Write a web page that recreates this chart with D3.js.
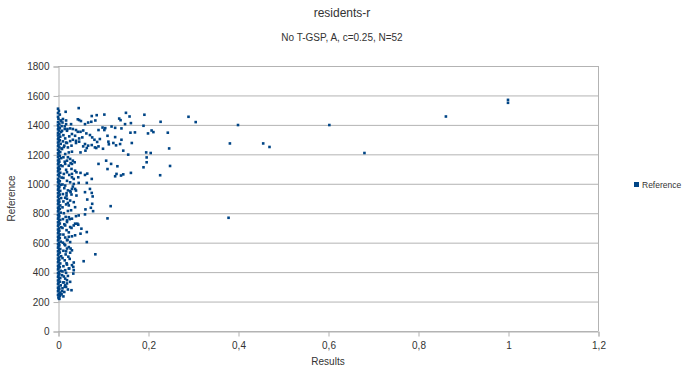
<!DOCTYPE html>
<html>
<head>
<meta charset="utf-8">
<script src="https://cdn.jsdelivr.net/npm/d3@7"></script>
<style>
  body { margin: 0; background: #fff; }
  text { font-family: "Liberation Sans", Arial, sans-serif; fill: #333; }
</style>
</head>
<body>
<div id="chart"></div>
<script>
// dense column sitting on x = 0 (Results, Reference)
const nearZero = [
  [0,1510],[0.002,1495],[0,1480],[0.004,1470],[0,1455],[0.001,1440],[0.006,1430],[0,1418],[0.003,1408],[0,1398],
  [0.008,1392],[0.001,1385],[0.004,1377],[0,1370],[0.002,1361],[0.007,1352],[0,1345],[0.003,1337],[0,1328],[0.005,1320],
  [0.001,1312],[0,1303],[0.004,1296],[0.002,1288],[0,1280],[0.006,1271],[0.001,1263],[0,1255],[0.003,1247],[0.008,1240],
  [0,1232],[0.002,1224],[0.005,1215],[0,1207],[0.001,1199],[0.004,1190],[0,1182],[0.007,1174],[0.002,1166],[0,1158],
  [0.003,1150],[0.001,1141],[0,1133],[0.006,1125],[0.002,1117],[0,1108],[0.004,1100],[0.001,1092],[0,1084],[0.005,1075],
  [0.002,1067],[0,1059],[0.003,1050],[0.008,1042],[0,1034],[0.001,1026],[0.004,1018],[0,1010],[0.002,1001],[0.006,993],
  [0,985],[0.003,977],[0.001,968],[0,960],[0.005,952],[0.002,944],[0,936],[0.004,927],[0.001,919],[0,911],
  [0.007,903],[0.002,895],[0,886],[0.003,878],[0.001,870],[0,862],[0.005,853],[0.002,845],[0,837],[0.004,829],
  [0.001,820],[0,812],[0.006,804],[0.002,796],[0,788],[0.003,779],[0.001,771],[0,763],[0.005,755],[0.002,746],
  [0,738],[0.004,730],[0.001,722],[0,714],[0.007,705],[0.002,697],[0,689],[0.003,681],[0.001,672],[0,664],
  [0.005,656],[0.002,648],[0,640],[0.004,631],[0.001,623],[0,615],[0.006,607],[0.002,598],[0,590],[0.003,582],
  [0.001,574],[0,566],[0.005,557],[0.002,549],[0,541],[0.004,533],[0.001,524],[0,516],[0.007,508],[0.002,500],
  [0,492],[0.003,483],[0.001,475],[0,467],[0.005,459],[0.002,450],[0,442],[0.004,434],[0.001,426],[0,418],
  [0.006,409],[0.002,401],[0,393],[0.003,385],[0.001,376],[0,368],[0.005,360],[0.002,352],[0,343],[0.004,335],
  [0.001,327],[0,319],[0.006,310],[0.002,302],[0,294],[0.003,286],[0.001,278],[0,270],[0.005,261],[0.002,253],
  [0,245],[0.004,237],[0.001,228],[0.003,218]
];

// thick band just right of the axis
const band = [
  [0.012,1180],[0.015,1150],[0.01,1120],[0.018,1095],[0.012,1040],[0.02,1020],[0.01,995],[0.014,970],[0.022,955],[0.011,930],
  [0.016,905],[0.012,880],[0.018,860],[0.01,840],[0.022,815],[0.013,800],[0.017,775],[0.011,760],[0.02,740],[0.014,725],
  [0.01,700],[0.019,685],[0.024,670],[0.012,655],[0.016,635],[0.021,620],[0.011,600],[0.014,590],[0.02,560],[0.012,545],
  [0.017,520],[0.023,505],[0.01,495],[0.015,480],[0.019,460],[0.012,440],[0.025,425],[0.01,405],[0.018,395],[0.013,370],
  [0.02,345],[0.011,330],[0.016,310],[0.01,290],[0.014,265],[0.008,250],[0.012,235],[0.018,300],[0.026,490],[0.028,560],
  [0.024,640],[0.03,700],[0.026,760],[0.029,820],[0.022,870],[0.027,950],[0.025,1060],[0.028,1140],[0.013,1250],[0.018,1280],
  [0.012,1330],[0.02,1360],[0.015,1390],[0.011,1440]
];

// scattered points
const scattered = [
  [0.046,1514],[0.017,1489],[0.075,1460],[0.086,1466],[0.103,1470],[0.151,1482],[0.136,1443],[0.139,1432],[0.159,1457],[0.192,1469],
  [0.228,1421],[0.047,1433],[0.051,1426],[0.044,1438],[0.067,1416],[0.06,1405],[0.01,1416],[0.018,1405],[0.029,1405],[0.007,1426],
  [0.018,1430],[0.074,1421],[0.083,1430],[0.162,1412],[0.105,1378],[0.119,1389],[0.127,1380],[0.149,1405],[0.141,1376],[0.161,1347],
  [0.171,1349],[0.19,1394],[0.2,1342],[0.208,1362],[0.212,1351],[0.09,1365],[0.099,1382],[0.103,1365],[0.11,1326],[0.127,1317],
  [0.076,1315],[0.071,1331],[0.063,1342],[0.05,1353],[0.056,1362],[0.033,1372],[0.04,1365],[0.044,1353],[0.009,1360],[0.015,1372],
  [0.021,1372],[0.027,1376],[0.031,1338],[0.038,1326],[0.025,1322],[0.016,1308],[0.011,1288],[0.02,1277],[0.027,1290],[0.033,1299],
  [0.04,1292],[0.047,1308],[0.054,1315],[0.081,1299],[0.093,1304],[0.112,1286],[0.123,1277],[0.141,1299],[0.138,1270],[0.164,1277],
  [0.145,1225],[0.113,1268],[0.129,1261],[0.087,1284],[0.1,1238],[0.085,1243],[0.06,1270],[0.067,1259],[0.075,1263],[0.064,1243],
  [0.056,1254],[0.082,1247],[0.09,1254],[0.04,1277],[0.047,1286],[0.014,1259],[0.009,1236],[0.022,1247],[0.03,1259],[0.016,1202],
  [0.024,1213],[0.031,1218],[0.05,1213],[0.061,1225],[0.247,1240],[0.244,1347],[0.156,1198],[0.196,1213],[0.206,1209],[0.197,1179],
  [0.19,1112],[0.197,1146],[0.249,1121],[0.227,1058],[0.09,1135],[0.107,1157],[0.11,1100],[0.118,1135],[0.13,1067],[0.127,1051],
  [0.14,1056],[0.132,1119],[0.162,1074],[0.145,1064],[0.065,1069],[0.06,1060],[0.075,1033],[0.041,1078],[0.05,1074],[0.045,1044],
  [0.022,1180],[0.027,1169],[0.033,1157],[0.037,1146],[0.031,1135],[0.024,1123],[0.016,1135],[0.02,1157],[0.03,1101],[0.038,1089],
  [0.031,1067],[0.02,1078],[0.013,1067],[0.031,1044],[0.035,1033],[0.027,1010],[0.035,999],[0.046,1006],[0.064,1006],[0.016,988],
  [0.031,965],[0.04,954],[0.071,965],[0.06,943],[0.075,938],[0.077,914],[0.065,893],[0.033,981],[0.038,965],[0.028,943],
  [0.041,920],[0.019,920],[0.027,886],[0.076,864],[0.073,837],[0.078,814],[0.061,826],[0.06,792],[0.117,848],[0.11,765],
  [0.02,898],[0.035,875],[0.024,853],[0.038,841],[0.03,927],[0.019,936],[0.046,785],[0.04,780],[0.024,773],[0.031,763],
  [0.02,751],[0.043,729],[0.045,722],[0.016,717],[0.027,706],[0.035,717],[0.038,729],[0.052,695],[0.064,672],[0.05,661],
  [0.038,650],[0.031,643],[0.02,616],[0.027,604],[0.016,582],[0.024,570],[0.064,604],[0.031,548],[0.027,532],[0.018,541],
  [0.083,521],[0.057,474],[0.035,465],[0.031,447],[0.02,451],[0.035,413],[0.024,424],[0.016,413],[0.022,374],[0.016,356],
  [0.009,379],[0.027,334],[0.02,323],[0.013,330],[0.03,277],[0.022,282],[0.015,300],[0.009,271],[0.005,244],[0.002,221],
  [0.034,435],[0.034,390]
];

// far points
const outliers = [
  [0.29,1455],[0.306,1419],[0.4,1399],[0.382,1274],[0.456,1274],[0.47,1250],[0.379,769],
  [0.603,1399],[0.681,1209],[0.862,1457],[1.0,1570],[1.0,1550]
];

const xTicks = [0, 0.2, 0.4, 0.6, 0.8, 1, 1.2];
const yTicks = [0, 200, 400, 600, 800, 1000, 1200, 1400, 1600, 1800];

const points = nearZero.concat(band, scattered, outliers);

const width = 685, height = 366;
const margin = { left: 58, right: 87, top: 66, bottom: 35 };
const color = "#004586";
const gridColor = "#b3b3b3";

const svg = d3.select("#chart").append("svg")
  .attr("width", width)
  .attr("height", height);

const x = d3.scaleLinear().domain([0, 1.2]).range([margin.left, width - margin.right]);
const y = d3.scaleLinear().domain([0, 1800]).range([height - margin.bottom, margin.top]);

// horizontal grid
svg.append("g")
  .selectAll("line")
  .data(yTicks)
  .join("line")
  .attr("x1", x(0)).attr("x2", x(1.2))
  .attr("y1", d => y(d) + 0.5).attr("y2", d => y(d) + 0.5)
  .attr("stroke", gridColor);

// right border
svg.append("line")
  .attr("x1", x(1.2) + 0.5).attr("x2", x(1.2) + 0.5)
  .attr("y1", y(1800)).attr("y2", y(0))
  .attr("stroke", gridColor);

const fmt = d => String(d).replace(".", ",");

const yAxis = svg.append("g")
  .attr("transform", `translate(${x(0) + 0.5},0.5)`)
  .call(d3.axisLeft(y).tickValues(yTicks).tickSize(5).tickPadding(4).tickFormat(fmt));

const xAxis = svg.append("g")
  .attr("transform", `translate(0.5,${y(0) + 0.5})`)
  .call(d3.axisBottom(x).tickValues(xTicks).tickSize(5).tickPadding(5).tickFormat(fmt));

[yAxis, xAxis].forEach(a => {
  a.select(".domain").attr("stroke", gridColor);
  a.selectAll(".tick line").attr("stroke", gridColor);
  a.selectAll(".tick text").attr("fill", "#333").style("font-size", "10px")
    .style("font-family", "'Liberation Sans', Arial, sans-serif");
});

// points
svg.append("g")
  .selectAll("rect")
  .data(points)
  .join("rect")
  .attr("x", d => x(d[0]) - 1.3)
  .attr("y", d => y(d[1]) - 1.3)
  .attr("width", 2.6)
  .attr("height", 2.6)
  .attr("fill", color);

// titles
svg.append("text")
  .attr("x", 342).attr("y", 17)
  .attr("text-anchor", "middle")
  .style("font-size", "12px")
  .text("residents-r");

svg.append("text")
  .attr("x", 342).attr("y", 41)
  .attr("text-anchor", "middle")
  .style("font-size", "10px")
  .text("No T-GSP, A, c=0.25, N=52");

svg.append("text")
  .attr("transform", `translate(15,${(y(0) + y(1800)) / 2}) rotate(-90)`)
  .attr("text-anchor", "middle")
  .style("font-size", "10px")
  .text("Reference");

svg.append("text")
  .attr("x", (x(0) + x(1.2)) / 2).attr("y", 365)
  .attr("text-anchor", "middle")
  .style("font-size", "10px")
  .text("Results");

// legend
svg.append("rect")
  .attr("x", 634).attr("y", 182)
  .attr("width", 5).attr("height", 5)
  .attr("fill", color);

svg.append("text")
  .attr("x", 642).attr("y", 188)
  .style("font-size", "8.5px")
  .text("Reference");
</script>
</body>
</html>
